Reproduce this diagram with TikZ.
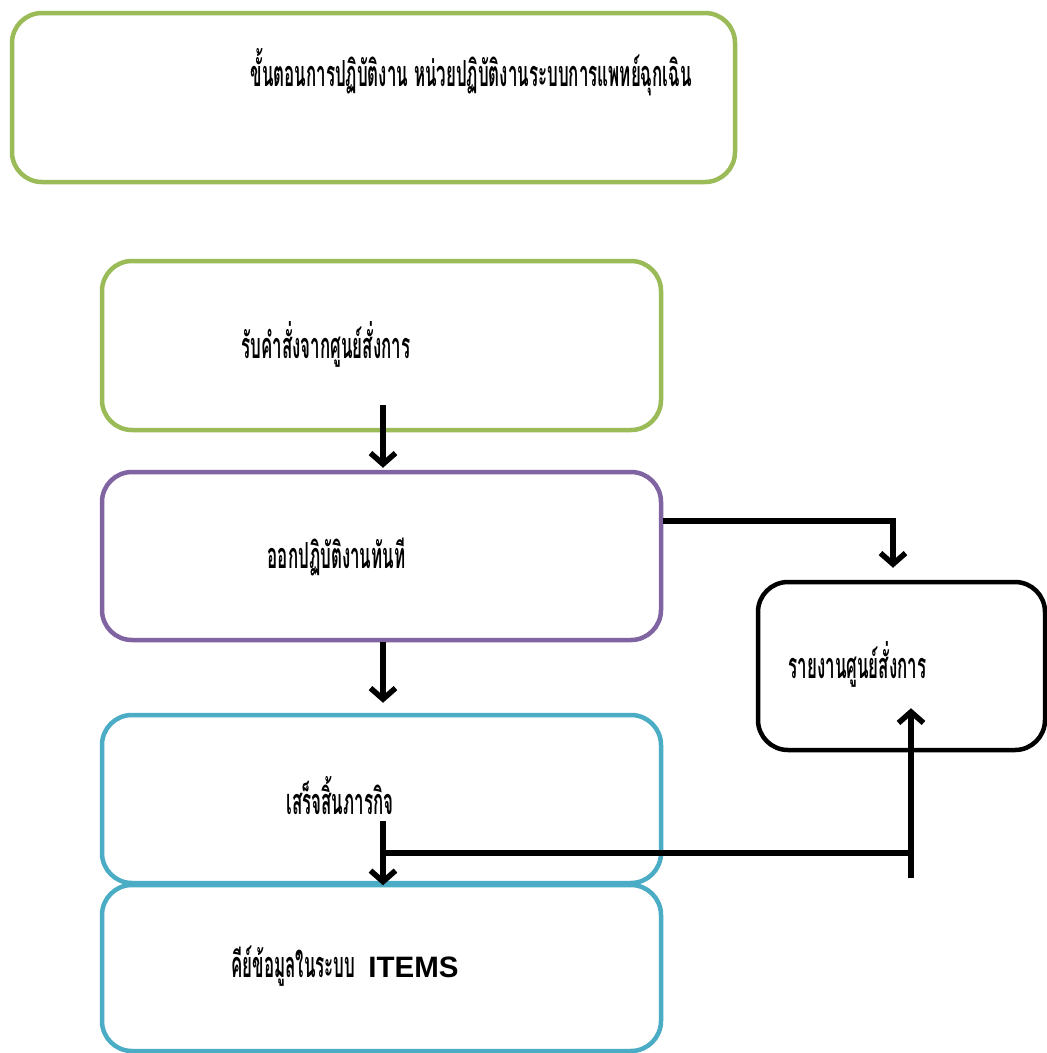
\documentclass[tikz,border=0pt]{standalone}
\usepackage{fontspec}
\newfontfamily\thaifont[Script=Thai,FakeStretch=0.47]{Loma}
\newfontfamily\arialfont{Liberation Sans}
\usetikzlibrary{arrows.meta}
\definecolor{bgreen}{HTML}{9BBB59}
\definecolor{bpurple}{HTML}{8064A2}
\definecolor{bblue}{HTML}{4BACC6}
\begin{document}
\begin{tikzpicture}[x=1pt,y=-1pt,
  box/.style={draw, line width=4.5pt, rounded corners=30pt, inner sep=0pt, fill=none},
  flow/.style={line width=5.5pt, -{Straight Barb[length=11pt,width=25pt]}},
  plain/.style={line width=5.5pt},
  lbl/.style={font=\thaifont\bfseries\fontsize{36}{40}\selectfont, inner sep=0pt, anchor=base}]
\useasboundingbox (0,0) rectangle (1047,1053);
\fill[white] (0,0) rectangle (1047,1053);
% boxes
\node[box, draw=bgreen, minimum width=723pt, minimum height=169pt] (b0) at (373.5,97.5) {};
\node[box, draw=bgreen, minimum width=559pt, minimum height=169pt] (b1) at (381.5,345.5) {};
\node[box, draw=bpurple, minimum width=559pt, minimum height=168pt] (b2) at (381.5,556) {};
\node[box, draw=black, minimum width=287pt, minimum height=168pt] (b3) at (901.5,666) {};
\node[box, draw=bblue, minimum width=559pt, minimum height=168pt] (b4) at (381.5,799) {};
\node[box, draw=bblue, minimum width=559pt, minimum height=166pt] (b5) at (381.5,968) {};
% labels
\node[lbl] (t0) at (471,86) {ขั้นตอนการปฏิบัติงาน หน่วยปฏิบัติงานระบบการแพทย์ฉุกเฉิน};
\node[lbl] (t1) at (326,358) {รับคำสั่งจากศูนย์สั่งการ};
\node[lbl] (t2) at (336.5,568) {ออกปฏิบัติงานทันที};
\node[lbl] (t3) at (857.5,678) {รายงานศูนย์สั่งการ};
\node[lbl] (t4) at (340,814) {เสร็จสิ้นภารกิจ};
\node[lbl] (t5) at (345,977) {คีย์ข้อมูลในระบบ\hspace{13pt}{\arialfont\bfseries\fontsize{29.5}{32}\selectfont ITEMS}};
% connectors
\coordinate (a1s) at ([xshift=1.5pt,yshift=27pt]b1.south);
\coordinate (a1e) at ([xshift=1.5pt,yshift=2pt]b2.north);
\draw[flow] (a1s) -- (a1e);
\coordinate (a2s) at ([xshift=1.5pt]b2.south);
\coordinate (a2e) at ([xshift=1.5pt,yshift=10pt]b4.north);
\draw[flow] (a2s) -- (a2e);
\coordinate (a3s) at ([yshift=-51pt]b2.north east);
\coordinate (a3e) at ([xshift=-8.5pt,yshift=12pt]b3.north);
\draw[flow] (a3s) -| (a3e);
\coordinate (a4s) at ([xshift=1.5pt,yshift=64pt]b4.south);
\coordinate (a4e) at ([xshift=1.5pt]b4.south);
\draw[flow] (a4s) -- (a4e);
\coordinate (jL) at (383,853);
\coordinate (jR) at (911,853);
\draw[plain] (jL) -- (jR);
\coordinate (a5s) at (911,878);
\coordinate (a5e) at ([xshift=9.5pt,yshift=44pt]b3.south);
\draw[flow] (a5s) -- (a5e);
\end{tikzpicture}
\end{document}
